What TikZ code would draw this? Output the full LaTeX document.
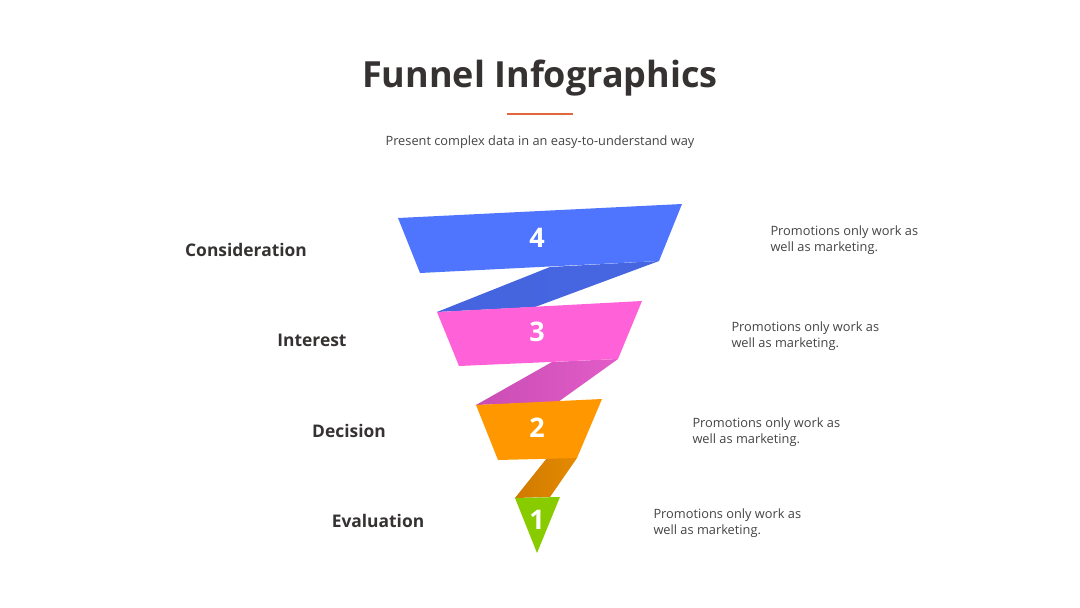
\documentclass[tikz,border=0pt]{standalone}
\usepackage{fontspec}
\setmainfont{Open Sans}
\definecolor{txtdark}{HTML}{363232}
\definecolor{txtgray}{HTML}{444444}
\definecolor{rule}{HTML}{E0683C}
\definecolor{cblue}{HTML}{4F75FF}
\definecolor{cbluedk}{HTML}{4564DE}
\definecolor{cpink}{HTML}{FF62D8}
\definecolor{cpinkdk}{HTML}{C94DB4}
\definecolor{cpinklt}{HTML}{E25CC8}
\definecolor{corange}{HTML}{FF9800}
\definecolor{corangedk}{HTML}{CF7A00}
\definecolor{corangelt}{HTML}{E58A00}
\definecolor{cgreen}{HTML}{88CC00}
\tikzset{
  num/.style={text=white,font=\fontsize{27}{30}\selectfont\bfseries},
  stage/.style={text=txtdark,font=\fontsize{17.4}{20}\selectfont\bfseries},
  desc/.style={text=txtgray,font=\fontsize{12.8}{16}\selectfont,align=left,anchor=west},
}
\begin{document}
\begin{tikzpicture}[x=1pt,y=-1pt]
\useasboundingbox[fill=white] (0,0) rectangle (1080,608);
% title
\node[text=txtdark,font=\fontsize{36}{40}\selectfont\bfseries] (title) at (540,78) {Funnel Infographics};
\draw[rule,line width=2pt] (507,114) -- (573,114);
\node[text=txtgray,font=\fontsize{12.8}{15}\selectfont] (sub) at (540,142) {Present complex data in an easy-to-understand way};
% connectors (behind)
\shade[left color=cbluedk,right color=cbluedk!90!cblue] (550,267) -- (659,261) -- (535,307) -- (437,312) -- cycle;
\shade[left color=cpinkdk,right color=cpinklt] (552,362) -- (618,359) -- (558,402) -- (476,405) -- cycle;
\shade[left color=corangedk,right color=corangelt] (547,458) -- (577,458) -- (550,497) -- (515,498) -- cycle;
% bands
\fill[cblue] (398,218) -- (682,204) -- (659,261) -- (420,273) -- cycle;
\fill[cpink] (437,312) -- (642,301) -- (618,359) -- (459,366) -- cycle;
\fill[corange] (476,405) -- (602,399) -- (577,458) -- (498,460) -- cycle;
\fill[cgreen] (515,498) -- (560,497) -- (537,553) -- cycle;
% numbers
\node[num] (n4) at (537,238) {4};
\node[num] (n3) at (537,332) {3};
\node[num] (n2) at (537,428) {2};
\node[num] (n1) at (537,520) {1};
% stage labels
\node[stage] (s4) at (246,250) {Consideration};
\node[stage] (s3) at (312,340) {Interest};
\node[stage] (s2) at (349,431) {Decision};
\node[stage] (s1) at (378,521) {Evaluation};
% descriptions
\node[desc] (d4) at (767,240) {Promotions only work as\\well as marketing.};
\node[desc] (d3) at (728,336) {Promotions only work as\\well as marketing.};
\node[desc] (d2) at (689,432) {Promotions only work as\\well as marketing.};
\node[desc] (d1) at (650,523) {Promotions only work as\\well as marketing.};
\end{tikzpicture}
\end{document}
